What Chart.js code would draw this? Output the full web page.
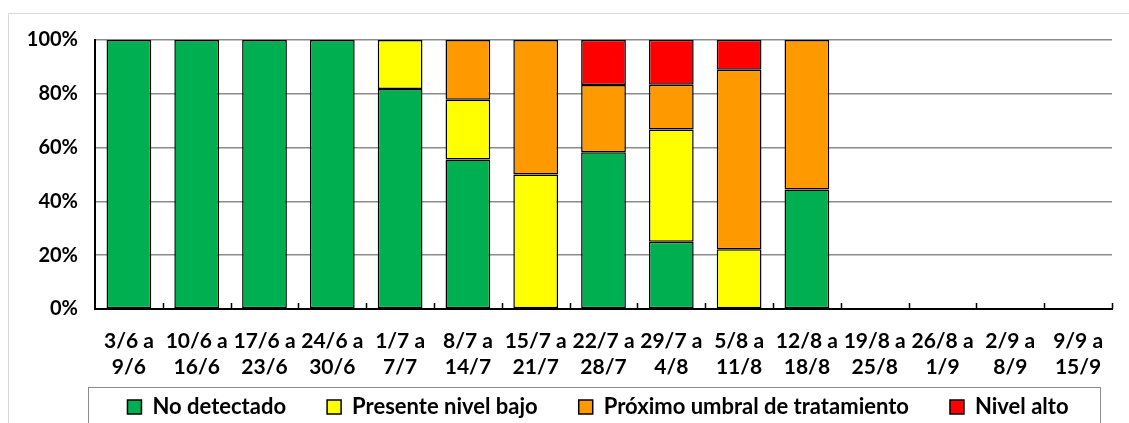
<!DOCTYPE html>
<html>
<head>
<meta charset="utf-8">
<script src="https://cdn.jsdelivr.net/npm/chart.js@4/dist/chart.umd.min.js"></script>
<style>
  html, body { margin: 0; padding: 0; background: #fff; }
  #wrap { position: relative; width: 1129px; height: 423px; overflow: hidden; }
  #frame { position: absolute; left: 8px; top: 13px; width: 1200px; height: 500px;
           border-left: 1px solid #d9d9d9; border-top: 1px solid #d9d9d9; }
  canvas { position: absolute; left: 0; top: 0; }
</style>
</head>
<body>
<div id="wrap">
  <div id="frame"></div>
  <canvas id="chart" width="1129" height="423"></canvas>
</div>
<script>
const weeks = [
  ['3/6 a', '9/6'], ['10/6 a', '16/6'], ['17/6 a', '23/6'], ['24/6 a', '30/6'],
  ['1/7 a', '7/7'], ['8/7 a', '14/7'], ['15/7 a', '21/7'], ['22/7 a', '28/7'],
  ['29/7 a', '4/8'], ['5/8 a', '11/8'], ['12/8 a', '18/8'], ['19/8 a', '25/8'],
  ['26/8 a', '1/9'], ['2/9 a', '8/9'], ['9/9 a', '15/9']
];
// porcentaje de parcelas por nivel
const noDetectado = [100, 100, 100, 100, 81.8, 55.6, 0, 58.3, 25, 0, 44.4, null, null, null, null];
const nivelBajo   = [0, 0, 0, 0, 18.2, 22.2, 50, 0, 41.7, 22.2, 0, null, null, null, null];
const umbral      = [0, 0, 0, 0, 0, 22.2, 50, 25, 16.7, 66.7, 55.6, null, null, null, null];
const nivelAlto   = [0, 0, 0, 0, 0, 0, 0, 16.7, 16.7, 11.1, 0, null, null, null, null];
const yTicks = [0, 20, 40, 60, 80, 100];

const LEG_PAD = 41;
const LEG_FONT = 22;

// legend sits inside its own frame, closer to the axis labels
const extras = {
  id: 'extras',
  afterLayout(chart) {
    const lg = chart.legend;
    const area = chart.chartArea;
    const dy = (area.bottom + 46) - lg.top;
    const frameMid = ((area.left - 7) + (area.right - 12)) / 2;
    const dx = frameMid + 4 - (lg.left + lg.right) / 2;
    lg.top += dy; lg.bottom += dy;
    lg.left += dx; lg.right += dx;
  },
  afterDatasetsDraw(chart) {
    // small inward tick marks between categories
    const ctx = chart.ctx;
    const x = chart.scales.x;
    const area = chart.chartArea;
    const step = (area.right - area.left) / x.ticks.length;
    ctx.save();
    ctx.strokeStyle = '#000';
    ctx.lineWidth = 1.5;
    ctx.beginPath();
    for (let i = 1; i <= x.ticks.length; i++) {
      const px = Math.round(area.left + i * step) + 0.5;
      ctx.moveTo(px, area.bottom);
      ctx.lineTo(px, area.bottom - 6);
    }
    ctx.stroke();
    ctx.restore();
  },
  afterDraw(chart) {
    const ctx = chart.ctx;
    const area = chart.chartArea;
    const top = Math.round(area.bottom + 78) + 0.5;
    ctx.save();
    ctx.strokeStyle = '#8c8c8c';
    ctx.lineWidth = 1;
    ctx.strokeRect(area.left - 6.5, top, area.right - area.left - 5, 100);
    ctx.restore();
  }
};

new Chart(document.getElementById('chart'), {
  type: 'bar',
  data: {
    labels: weeks,
    datasets: [
      { label: 'No detectado', data: noDetectado, backgroundColor: '#00B050' },
      { label: 'Presente nivel bajo', data: nivelBajo, backgroundColor: '#FFFF00' },
      { label: 'Próximo umbral de tratamiento', data: umbral, backgroundColor: '#FF9900' },
      { label: 'Nivel alto', data: nivelAlto, backgroundColor: '#FF0000' },
    ].map((d) => Object.assign(d, {
      borderColor: '#000',
      borderWidth: 1.5,
      borderSkipped: false,
      categoryPercentage: 1,
      barPercentage: 0.66,
    })),
  },
  options: {
    responsive: false,
    animation: false,
    layout: { padding: { top: 40, right: 17, left: 0, bottom: -31 } },
    plugins: {
      tooltip: { enabled: false },
      legend: {
        position: 'bottom',
        labels: {
          font: { family: 'Lato', weight: 'bold', size: LEG_FONT },
          color: '#000',
          boxWidth: 14,
          boxHeight: 14,
          padding: LEG_PAD,
          generateLabels(chart) {
            return chart.data.datasets.map((d, i) => ({
              text: d.label,
              fillStyle: d.backgroundColor,
              strokeStyle: '#000',
              lineWidth: 1.5,
              datasetIndex: i,
              fontColor: '#000',
            }));
          },
        },
      },
    },
    scales: {
      x: {
        stacked: true,
        grid: { display: false },
        border: { display: true, color: '#000', width: 2 },
        ticks: { font: { family: 'Lato', weight: 'bold', size: 21 }, color: '#000', padding: 12, maxRotation: 0, autoSkip: false },
        afterFit(scale) { scale.height = 72; },
      },
      y: {
        stacked: true,
        min: 0,
        max: 100,
        afterBuildTicks(scale) { scale.ticks = yTicks.map((v) => ({ value: v })); },
        grid: { color: '#8c8c8c', lineWidth: 1.5, drawTicks: false },
        border: { display: true, color: '#000', width: 2 },
        ticks: { font: { family: 'Lato', weight: 'bold', size: 20 }, color: '#000', padding: 17, callback: (v) => v + '%' },
        afterFit(scale) { scale.width = 95; },
      },
    },
  },
  plugins: [extras],
});
</script>
</body>
</html>
